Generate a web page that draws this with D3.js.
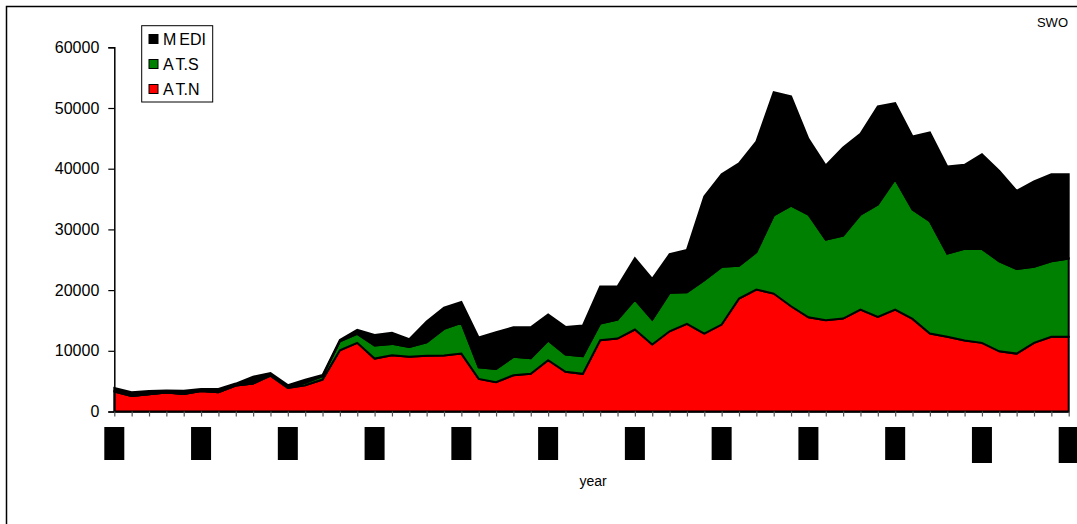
<!DOCTYPE html>
<html><head><meta charset="utf-8">
<script src="https://cdn.jsdelivr.net/npm/d3@7/dist/d3.min.js"></script>
<style>
body{margin:0;background:#fff;}
svg{display:block;font-family:"Liberation Sans",Arial,sans-serif;}
</style>
</head><body>
<svg id="chart" width="1077" height="524"></svg>
<script>
const years = [1950,1951,1952,1953,1954,1955,1956,1957,1958,1959,1960,1961,1962,1963,1964,1965,1966,1967,1968,1969,
  1970,1971,1972,1973,1974,1975,1976,1977,1978,1979,1980,1981,1982,1983,1984,1985,1986,1987,1988,1989,
  1990,1991,1992,1993,1994,1995,1996,1997,1998,1999,2000,2001,2002,2003,2004,2005];
const atN = [3280,2570,2840,3120,2900,3390,3170,4270,4600,5920,3890,4320,5260,10090,11310,8720,9260,9000,9200,9210,
  9540,5370,4820,5970,6200,8440,6530,6200,11740,12020,13500,11030,13220,14440,12840,14320,18600,20090,19430,17340,
  15530,15030,15310,16790,15590,16790,15260,12840,12300,11690,11310,9920,9540,11310,12300,12300];
const atS = [0,0,0,0,0,0,0,0,0,0,150,400,540,1480,1480,2140,1880,1650,2200,4400,
  5060,1920,2200,3030,2570,3250,2850,2900,2750,3130,4940,4120,6330,5210,8780,9510,5400,6150,12860,16590,
  16920,13300,13680,15660,18510,21480,18010,18510,13720,15100,15480,14830,13960,12520,12450,12900];
const medi = [600,600,550,330,500,330,550,330,1150,400,300,500,200,230,660,1760,1810,1250,3430,3510,
  3460,4890,6030,4880,5110,4280,4560,5060,6100,5440,6810,6700,6360,6980,13800,15260,16890,18240,20320,17970,
  12470,12200,14500,13300,16150,12520,12030,14610,14340,13850,15600,14900,12860,14060,14340,13890];
const seriesNames = ["AT.N","AT.S","MEDI"];
const seriesColors = ["#ff0000","#008000","#000000"];
const yTicks = [0,10000,20000,30000,40000,50000,60000];
const labelYears = [1950,1955,1960,1965,1970,1975,1980,1985,1990,1995,2000,2005];

const svg = d3.select("#chart");
// outer frame
svg.append("rect").attr("x",6.5).attr("y",6.5).attr("width",1085).attr("height",540)
  .attr("fill","none").attr("stroke","#000").attr("stroke-width",1.5);

const x = d3.scalePoint().domain(years).range([114.3, 1068.7]);
const y = d3.scaleLinear().domain([0,60000]).range([411.5, 47.3]);

const table = years.map((yr,i)=>({year:yr,"AT.N":atN[i],"AT.S":atS[i],"MEDI":medi[i]}));
const stacked = d3.stack().keys(seriesNames)(table);
const area = d3.area().x(d=>x(d.data.year)).y0(d=>y(d[0])).y1(d=>y(d[1]));

svg.append("g").selectAll("path").data(stacked).join("path")
  .attr("d", area)
  .attr("fill",(d,i)=>seriesColors[i])
  .attr("stroke","#000").attr("stroke-width",2).attr("stroke-linejoin","miter");

// y axis
const yAxis = svg.append("g").attr("transform","translate(114.3,0)")
  .call(d3.axisLeft(y).tickValues(yTicks).tickFormat(d3.format("d")).tickSize(6).tickPadding(9));
yAxis.select(".domain").attr("stroke","#000").attr("stroke-width",1.5);
yAxis.selectAll(".tick line").attr("stroke","#000").attr("stroke-width",1.2);
yAxis.selectAll(".tick text").attr("font-size",16).attr("fill","#000")
  .attr("font-family","'Liberation Sans',Arial,sans-serif");

// x axis
const xAxis = svg.append("g").attr("transform","translate(0,411.5)")
  .call(d3.axisBottom(x).tickValues(years).tickFormat("").tickSize(5).tickSizeOuter(0));
xAxis.select(".domain").attr("stroke","#000").attr("stroke-width",1.5);
xAxis.selectAll(".tick line").attr("stroke","#555").attr("stroke-width",1.2);

// year labels (rendered as solid blocks as in the reference)
const lab = svg.append("g").selectAll("g").data(labelYears).join("g")
  .attr("transform",d=>`translate(${x(d)},427)`);
lab.append("rect").attr("x",-10).attr("y",0).attr("width",20)
  .attr("height",d=>d>=2000?36:33).attr("fill","#000");
lab.append("text").attr("transform","translate(5,16) rotate(-90)").attr("text-anchor","middle")
  .attr("font-size",12).attr("fill","#000").text(d=>d);

// axis title
svg.append("text").attr("x",593).attr("y",486).attr("text-anchor","middle")
  .attr("font-size",14).attr("fill","#000").text("year");

// corner label
svg.append("text").attr("x",1068).attr("y",27).attr("text-anchor","end")
  .attr("font-size",13).attr("fill","#000").text("SWO");

// legend
const leg = svg.append("g");
leg.append("rect").attr("x",141.7).attr("y",25.7).attr("width",71).attr("height",76.3)
  .attr("fill","#fff").attr("stroke","#000").attr("stroke-width",1);
const legOrder = [2,1,0];
legOrder.forEach((si,k)=>{
  const cy = 39 + k*25;
  leg.append("rect").attr("x",149).attr("y",cy-4.5).attr("width",9).attr("height",9)
    .attr("fill",seriesColors[si]).attr("stroke","#000").attr("stroke-width",1);
  const name = seriesNames[si];
  const t = leg.append("text").attr("x",163).attr("y",cy+6).attr("font-size",16).attr("fill","#000");
  t.append("tspan").text(name[0]);
  t.append("tspan").attr("dx",3).text(name.slice(1));
});
</script>
</body></html>
